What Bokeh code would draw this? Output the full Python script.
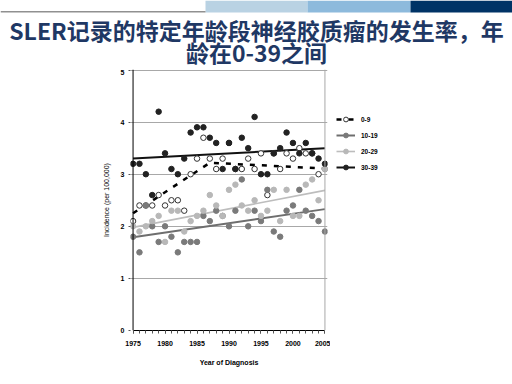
from bokeh.plotting import figure
from bokeh.models import Range1d, FixedTicker, Span, Label, Legend, LegendItem
from bokeh.layouts import column, row
from bokeh.embed import file_html
from bokeh.resources import INLINE

# ---------------- data ----------------
years = list(range(1975, 2006))
age_0_9 = [2.1, 2.4, 2.4, 2.4, 2.6, 2.4, 2.5, 2.5, 2.3, 3.0, 3.3, 3.7, 3.3, 3.1, 3.3, 3.6,
           3.1, 3.1, 3.3, 3.1, 3.4, 2.6, 3.4, 3.1, 3.4, 3.3, 3.5, 3.4, 3.4, 3.0, 3.1]
age_10_19 = [1.8, 1.5, 2.4, 2.0, 1.7, 2.0, 1.8, 1.5, 1.7, 1.7, 1.7, 2.2, 2.1, 2.3, 2.2, 2.0,
             2.3, 2.9, 2.0, 2.3, 2.1, 2.7, 1.9, 1.8, 2.3, 2.4, 2.7, 2.3, 2.2, 2.1, 1.9]
age_20_29 = [2.0, 1.9, 2.0, 2.1, 2.2, 1.7, 2.3, 2.3, 1.9, 2.1, 2.2, 2.3, 2.6, 2.4, 2.2, 2.7,
             2.8, 2.4, 2.3, 2.5, 2.2, 2.3, 2.7, 2.1, 2.7, 2.2, 2.2, 2.8, 2.9, 2.5, 3.1]
age_30_39 = [3.2, 3.2, 3.0, 2.6, 4.2, 3.4, 3.1, 3.0, 3.3, 3.8, 3.9, 3.9, 3.7, 3.6, 3.1, 3.6,
             3.1, 3.7, 3.5, 4.1, 3.0, 3.0, 3.4, 3.5, 3.8, 3.6, 3.4, 3.6, 3.4, 3.3, 3.2]

# fitted trend lines
trend_years = [1975, 2005]
trend_10_19 = [1.79, 2.33]
trend_20_29 = [1.98, 2.69]
trend_30_39 = [3.30, 3.50]
trend_0_9_years = [1975, 1987, 2005]
trend_0_9 = [2.25, 3.22, 3.11]

series_labels = ["0-9", "10-19", "20-29", "30-39"]
x_tick_values = [1975, 1980, 1985, 1990, 1995, 2000, 2005]
y_tick_values = [0, 1, 2, 3, 4, 5]

title_line1 = "SLER记录的特定年龄段神经胶质瘤的发生率，年"
title_line2 = "龄在0-39之间"
x_title = "Year of Diagnosis"
y_title = "Incidence (per 100,000)"

NAVY = "#1F3864"
FONT = "Liberation Sans"

# ---------------- header: banner + title ----------------
banner_left = [0, 205, 307, 410]
banner_right = [205, 307, 410, 512]
banner_colors = ["white", "#B9D2E3", "#8DBADC", "#003366"]

HEAD_H = 69
tf = figure(width=512, height=HEAD_H, x_range=Range1d(0, 512), y_range=Range1d(HEAD_H, 0),
            min_border=0, toolbar_location=None, output_backend="svg",
            x_axis_type=None, y_axis_type=None, outline_line_color=None, title=None)
tf.quad(left=banner_left, right=banner_right, top=0, bottom=12,
        fill_color=banner_colors, line_color=None)
tf.segment(x0=[0], y0=[11.3], x1=[205], y1=[11.3], line_color="#909090", line_width=1.5)
tf.grid.visible = False
for txt, yy in [(title_line1, 29), (title_line2, 51.5)]:
    tf.add_layout(Label(x=256, y=yy, text=txt, text_align="center",
                        text_baseline="middle", text_font="Noto Sans CJK SC",
                        text_font_style="bold", text_font_size="23px",
                        text_color=NAVY))

# ---------------- main chart ----------------
MAIN_H = 384 - HEAD_H
p = figure(width=330, height=MAIN_H,
           x_range=Range1d(1974.6, 2005.4), y_range=Range1d(0, 5.01),
           min_border_left=130, min_border_right=3,
           min_border_top=0, min_border_bottom=54,
           output_backend="svg", toolbar_location=None, title=None,
           outline_line_color=None, background_fill_color="white")

p.xaxis.ticker = FixedTicker(ticks=x_tick_values, minor_ticks=years)
p.xaxis.bounds = (1975, 2005)
p.xaxis.axis_line_color = "black"
p.xaxis.major_tick_out = 3
p.xaxis.major_tick_in = 0
p.xaxis.minor_tick_out = 3
p.xaxis.minor_tick_in = 0
p.xaxis.major_tick_line_color = "#555555"
p.xaxis.minor_tick_line_color = "#555555"
p.xaxis.major_label_standoff = 7
p.xaxis.major_label_text_font = FONT
p.xaxis.major_label_text_font_style = "bold"
p.xaxis.major_label_text_font_size = "7px"
p.xaxis.major_label_text_color = "black"
p.xaxis.axis_label = x_title
p.xaxis.axis_label_text_font = FONT
p.xaxis.axis_label_text_font_style = "bold"
p.xaxis.axis_label_text_font_size = "7px"
p.xaxis.axis_label_text_color = "black"
p.xaxis.axis_label_standoff = 10

p.yaxis.ticker = FixedTicker(ticks=y_tick_values)
p.yaxis.bounds = (0, 5)
p.yaxis.axis_line_color = None
p.yaxis.major_tick_out = 2
p.yaxis.major_tick_in = 0
p.yaxis.major_tick_line_color = "#555555"
p.yaxis.minor_tick_line_color = None
p.yaxis.major_label_standoff = 4
p.yaxis.major_label_text_font = FONT
p.yaxis.major_label_text_font_style = "bold"
p.yaxis.major_label_text_font_size = "7px"
p.yaxis.major_label_text_color = "black"
p.yaxis.axis_label = y_title
p.yaxis.axis_label_text_font = FONT
p.yaxis.axis_label_text_font_style = "normal"
p.yaxis.axis_label_text_font_size = "7px"
p.yaxis.axis_label_text_color = "black"
p.yaxis.axis_label_standoff = 8

p.xgrid.visible = False
p.ygrid.ticker = FixedTicker(ticks=y_tick_values)
p.ygrid.grid_line_color = "#a8a8a8"
p.ygrid.grid_line_width = 1

p.add_layout(Span(location=1975, dimension="height", line_color="black", line_width=1))
p.add_layout(Span(location=2005, dimension="height", line_color="#a8a8a8", line_width=1))

line_styles = [dict(line_color="black", line_width=2.5, line_dash="5 7"),
               dict(line_color="#6e6e6e", line_width=2),
               dict(line_color="#bdbdbd", line_width=1.6),
               dict(line_color="#111111", line_width=2)]
marker_styles = [dict(fill_color="white", line_color="#333333", line_width=1),
                 dict(fill_color="#7a7a7a", line_color="#7a7a7a"),
                 dict(fill_color="#b8b8b8", line_color="#b8b8b8"),
                 dict(fill_color="#222222", line_color="#222222")]

p.line(trend_0_9_years, trend_0_9, **line_styles[0])
p.line(trend_years, trend_10_19, **line_styles[1])
p.line(trend_years, trend_20_29, **line_styles[2])
p.line(trend_years, trend_30_39, **line_styles[3])

for vals, ms in zip([age_0_9, age_10_19, age_20_29, age_30_39], marker_styles):
    p.scatter(years, vals, marker="circle", size=5.5, **ms)

# ---------------- legend panel ----------------
lf = figure(width=182, height=MAIN_H, x_range=Range1d(0, 1), y_range=Range1d(0, 1),
            min_border=0, toolbar_location=None, output_backend="svg",
            x_axis_type=None, y_axis_type=None, outline_line_color=None, title=None)
lf.grid.visible = False
items = []
for lab, ls, ms in zip(series_labels, line_styles, marker_styles):
    # off-screen stand-ins so the legend can draw each series' line + marker
    lr = lf.line([5, 6], [5, 5], **ls)
    sr = lf.scatter([5], [5], marker="circle", size=5.5, **ms)
    items.append(LegendItem(label=lab, renderers=[lr, sr]))

legend = Legend(items=items, location=(6, 157), orientation="vertical",
                padding=0, margin=0, spacing=4,
                glyph_width=19, glyph_height=12, label_height=12, label_standoff=6,
                label_text_font=FONT, label_text_font_style="bold",
                label_text_font_size="6.5px", label_text_color="black",
                border_line_color=None, background_fill_alpha=0)
lf.add_layout(legend)

layout = column(tf, row(p, lf, spacing=0), spacing=0)
open("out.html", "w").write(file_html(layout, INLINE))
